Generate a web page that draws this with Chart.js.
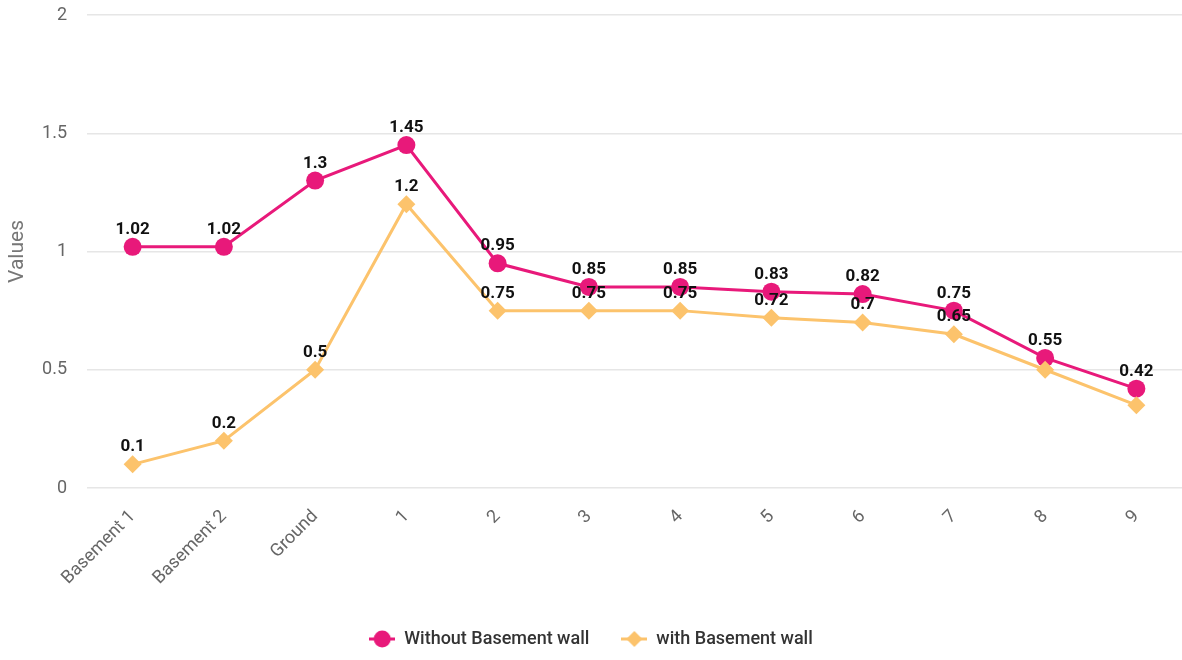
<!DOCTYPE html>
<html>
<head>
<meta charset="utf-8">
<title>Values per floor</title>
<script src="https://cdn.jsdelivr.net/npm/chart.js@4.4.1/dist/chart.umd.min.js"></script>
<style>
  html, body { margin: 0; padding: 0; background: #fff; }
  #wrap { width: 1182px; height: 660px; position: relative; }
</style>
</head>
<body>
<div id="wrap"><canvas id="lineChart"></canvas></div>
<script>
// Floors along the x axis
const floors = ["Basement 1", "Basement 2", "Ground", "1", "2", "3", "4", "5", "6", "7", "8", "9"];

// Values per floor for both cases
const withoutWall = [1.02, 1.02, 1.3, 1.45, 0.95, 0.85, 0.85, 0.83, 0.82, 0.75, 0.55, 0.42];
const withWall = [0.1, 0.2, 0.5, 1.2, 0.75, 0.75, 0.75, 0.72, 0.7, 0.65, 0.5, 0.35];

// Floors where the "with wall" value label is left out (it collides with the other series)
const withWallHiddenLabels = [10, 11];

// Y axis ticks
const yTicks = [0, 0.5, 1, 1.5, 2];

const PINK = "#e8197a";
const YELLOW = "#fcc36c";

// Small legend marker: a line with the point shape in the middle
function legendMarker(color, shape) {
  const c = document.createElement("canvas");
  c.width = 26;
  c.height = 20;
  const ctx = c.getContext("2d");
  ctx.strokeStyle = color;
  ctx.lineWidth = 3;
  ctx.beginPath();
  ctx.moveTo(0, 10);
  ctx.lineTo(26, 10);
  ctx.stroke();
  ctx.fillStyle = color;
  ctx.beginPath();
  if (shape === "circle") {
    ctx.arc(13, 10, 8.5, 0, Math.PI * 2);
  } else {
    ctx.moveTo(13, 2);
    ctx.lineTo(21, 10);
    ctx.lineTo(13, 18);
    ctx.lineTo(5, 10);
    ctx.closePath();
  }
  ctx.fill();
  return c;
}

// Draws the value above every point
const valueLabels = {
  id: "valueLabels",
  afterDatasetsDraw(chart) {
    const ctx = chart.ctx;
    ctx.save();
    ctx.font = "bold 17px Roboto, 'Liberation Sans', sans-serif";
    ctx.fillStyle = "#111";
    ctx.textAlign = "center";
    ctx.textBaseline = "alphabetic";
    chart.data.datasets.forEach((ds, di) => {
      const meta = chart.getDatasetMeta(di);
      meta.data.forEach((pt, i) => {
        if (di === 1 && withWallHiddenLabels.includes(i)) return;
        ctx.fillText(String(ds.data[i]), pt.x, pt.y - 13);
      });
    });
    ctx.restore();
  }
};

const ctx = document.getElementById("lineChart").getContext("2d");
new Chart(ctx, {
  type: "line",
  data: {
    labels: floors,
    datasets: [
      {
        label: "Without Basement wall",
        data: withoutWall,
        borderColor: PINK,
        backgroundColor: PINK,
        borderWidth: 3,
        pointStyle: "circle",
        pointRadius: 9,
        pointBorderWidth: 0,
        pointHoverRadius: 9,
        tension: 0,
        order: 1
      },
      {
        label: "with Basement wall",
        data: withWall,
        borderColor: YELLOW,
        backgroundColor: YELLOW,
        borderWidth: 3,
        pointStyle: "rectRot",
        pointRadius: 9,
        pointBorderWidth: 0,
        pointHoverRadius: 9,
        tension: 0,
        order: 0
      }
    ]
  },
  options: {
    responsive: true,
    maintainAspectRatio: false,
    animation: false,
    layout: {
      autoPadding: false,
      padding: { top: 15, right: 0, left: 0, bottom: 2 }
    },
    scales: {
      x: {
        offset: true,
        grid: { display: false },
        border: { display: false },
        ticks: {
          autoSkip: false,
          minRotation: 45,
          maxRotation: 45,
          padding: 10,
          color: "#666",
          font: { family: "Roboto, sans-serif", size: 18 }
        },
        afterFit(scale) {
          scale.height = 110;
          scale.paddingLeft = 0;
          scale.paddingRight = 0;
        }
      },
      y: {
        min: 0,
        max: 2,
        afterBuildTicks(scale) { scale.ticks = yTicks.map(v => ({ value: v })); },
        grid: { color: "#e6e6e6", lineWidth: 1.5, drawTicks: false },
        border: { display: false },
        ticks: {
          padding: 20,
          color: "#666",
          font: { family: "Roboto, sans-serif", size: 18 },
          callback: v => String(v)
        },
        title: {
          display: true,
          text: "Values",
          color: "#777",
          padding: { top: 5, bottom: 4 },
          font: { family: "Roboto, sans-serif", size: 21 }
        },
        afterFit(scale) {
          scale.width = 87;
          scale.paddingTop = 0;
          scale.paddingBottom = 0;
        }
      }
    },
    plugins: {
      legend: {
        position: "bottom",
        labels: {
          usePointStyle: true,
          pointStyleWidth: 26,
          padding: 32,
          color: "#333",
          font: { family: "Roboto, sans-serif", size: 18, weight: "500" },
          generateLabels(chart) {
            return chart.data.datasets.map((ds, i) => ({
              text: ds.label,
              datasetIndex: i,
              fontColor: "#333",
              hidden: false,
              lineWidth: 0,
              strokeStyle: ds.borderColor,
              fillStyle: ds.backgroundColor,
              pointStyle: legendMarker(ds.borderColor, i === 0 ? "circle" : "diamond")
            }));
          }
        }
      },
      tooltip: { enabled: false }
    }
  },
  plugins: [valueLabels]
});
</script>
</body>
</html>
